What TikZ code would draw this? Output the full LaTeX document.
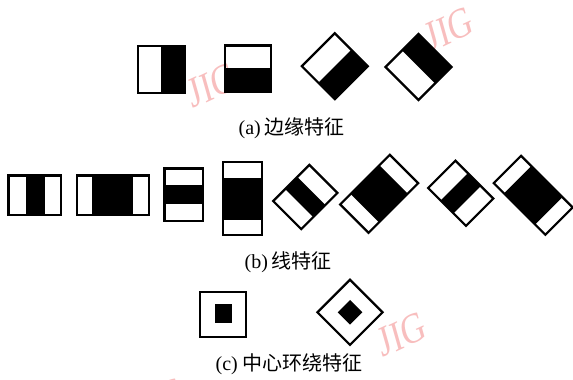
\documentclass[tikz,border=0pt]{standalone}
\usepackage{fontspec}
\setmainfont{Liberation Serif}
\newfontfamily\cjk{Noto Sans CJK SC}
\definecolor{wm}{RGB}{248,190,190}
\begin{document}
\begin{tikzpicture}[x=1pt,y=-1pt,
  frame/.style={draw=black,line width=2.2pt,line join=miter},
  ink/.style={fill=black},
  wmark/.style={text=wm,font=\fontsize{43}{43}\selectfont,xscale=0.78,rotate=20,inner sep=0pt},
  caption/.style={font=\fontsize{20}{24}\selectfont,inner sep=0pt}]
\useasboundingbox (0,0) rectangle (573,380);
\fill[white] (0,0) rectangle (573,380);
\clip (0,0) rectangle (573,380);

% watermarks
\node[wmark] (w1) at (212,85) {JIG};
\node[wmark] (w2) at (449,29) {JIG};
\node[wmark] (w3) at (402,334) {JIG};
\node[wmark] (w4) at (-27,150) {JIG};
\node[wmark] (w5) at (160,400) {JIG};

% (a) edge features
\fill[ink] (160.7,46.1) rectangle (184.6,92.9);
\draw[frame] (137.8,46.1) rectangle (184.6,92.9);
\fill[ink] (225.1,67.7) rectangle (271.2,92.2);
\draw[frame] (225.1,45.4) rectangle (271.2,92.2);
\begin{scope}[shift={(334.8,66.2)},rotate=45]
  \fill[ink] (-23.3,0) rectangle (23.3,23.3);
  \draw[frame] (-23.3,-23.3) rectangle (23.3,23.3);
\end{scope}
\begin{scope}[shift={(418.5,67)},rotate=45]
  \fill[ink] (0,-23.3) rectangle (23.3,23.3);
  \draw[frame] (-23.3,-23.3) rectangle (23.3,23.3);
\end{scope}
\node[caption] (capa) at (291.7,128) {(a)\hspace{4pt}{\cjk 边缘特征}};

% (b) line features
\fill[ink] (25.7,175.4) rectangle (44.7,214.9);
\draw[frame] (8.4,175.4) rectangle (61.2,214.9);
\fill[ink] (91.7,175.4) rectangle (133.3,214.9);
\draw[frame] (77.1,175.4) rectangle (148.9,214.9);
\fill[ink] (164.4,185) rectangle (203.2,204);
\draw[frame] (164.4,168.4) rectangle (203.2,221.2);
\fill[ink] (222.8,177.7) rectangle (262.2,220);
\draw[frame] (222.8,161.8) rectangle (262.2,234.6);
\begin{scope}[shift={(305.3,197)},rotate=45]
  \fill[ink] (-8.6,-19.8) rectangle (8.6,19.8);
  \draw[frame] (-25.6,-19.8) rectangle (25.6,19.8);
\end{scope}
\begin{scope}[shift={(379.2,193.8)},rotate=45]
  \fill[ink] (-20.3,-20.1) rectangle (20.3,20.1);
  \draw[frame] (-35.1,-20.1) rectangle (35.1,20.1);
\end{scope}
\begin{scope}[shift={(460.7,193.3)},rotate=45]
  \fill[ink] (-19.3,-9.1) rectangle (19.3,9.1);
  \draw[frame] (-19.3,-26.8) rectangle (19.3,26.8);
\end{scope}
\begin{scope}[shift={(533.2,195.3)},rotate=45]
  \fill[ink] (-19.3,-22) rectangle (19.3,22);
  \draw[frame] (-19.3,-36.5) rectangle (19.3,36.5);
\end{scope}
\node[caption] (capb) at (288.3,262.5) {(b)\hspace{4pt}{\cjk 线特征}};

% (c) center-surround features
\fill[ink] (215,304) rectangle (232.3,322.7);
\draw[frame] (200.1,291.8) rectangle (246.2,337.2);
\begin{scope}[shift={(350,312.3)},rotate=45]
  \fill[ink] (-8.7,-8.7) rectangle (8.7,8.7);
  \draw[frame] (-23,-23) rectangle (23,23);
\end{scope}
\node[caption] (capc) at (289.2,364) {(c)\hspace{5pt}{\cjk 中心环绕特征}};
\end{tikzpicture}
\end{document}
